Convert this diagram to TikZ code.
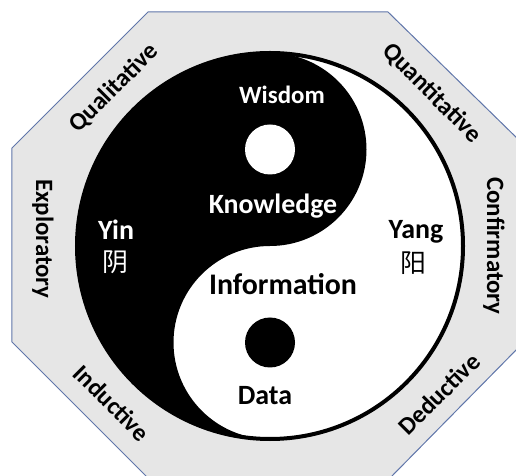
\documentclass[tikz,border=0pt]{standalone}
\usepackage{fontspec}
\setmainfont{Carlito}
\newfontfamily\cjk{Noto Sans CJK SC}
\definecolor{octfill}{RGB}{230,230,230}
\definecolor{octline}{RGB}{96,118,170}
\begin{document}
\begin{tikzpicture}[x=1bp, y=1bp, line join=round, line cap=round,
	inner/.style={font=\fontsize{28}{30}\selectfont\bfseries, inner sep=0pt},
	outer/.style={font=\fontsize{25}{28}\selectfont\bfseries, inner sep=0pt},
	zh/.style={font=\fontsize{26}{28}\selectfont\cjk, inner sep=0pt}]
			\def\R{193}
			\def\r{96.5}
			\useasboundingbox (-270,-230) rectangle (246,246);
			\path
			(-122,234) coordinate (A)
			(118,234) coordinate (B)
			(252,103) coordinate (C)
			(252,-98) coordinate (D)
			(120,-232) coordinate (E)
			(-122,-232) coordinate (F)
			(-258,-96) coordinate (G)
			(-258,98) coordinate (H)
			;
			\draw[fill=octfill, draw=octline, line width=1bp] (A)--(B)--(C)--(D)--(E)--(F)--(G)--(H)--cycle;
			\fill[white] (0,0) circle (\R);
			\fill[black] (0,\R) arc (90:270:\R) arc (270:90:\r) arc (-90:90:\r) -- cycle;
			\fill[white] (0,\r) circle (25);
			\fill[black] (0,-\r) circle (25);
			\draw[line width=4bp] (0,0) circle (\R);
			\node[inner, white, font=\fontsize{25}{28}\selectfont\bfseries] (wisdom) at (12,151) {Wisdom};
			\node[inner, white] (knowledge) at (3,40) {Knowledge};
			\node[inner, font=\fontsize{30}{32}\selectfont\bfseries] (information) at (13,-38) {Information};
			\node[inner] (data) at (-5,-150) {Data};
			\node[inner, white] (yin) at (-154,16) {Yin};
			\node[zh, white] (yinzh) at (-155,-16) {阴};
			\node[inner] (yang) at (146,14) {Yang};
			\node[zh] (yangzh) at (143,-17) {阳};
			\foreach \p/\x/\y/\g/\t in {qual/-156/158/45/Qualitative, quan/162/153/-45/Quantitative,
				expl/-227/7/-90/Exploratory, conf/224/0/-90/Confirmatory,
				indu/-158/-157/-45/Inductive, dedu/169/-148/45/Deductive}
			\node[outer, rotate=\g] (\p) at (\x,\y) {\t};
			\end{tikzpicture}
\end{document}
